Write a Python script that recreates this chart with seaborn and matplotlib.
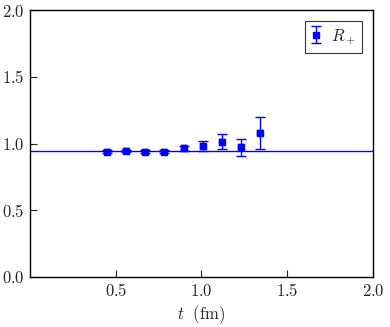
import matplotlib
matplotlib.use("Agg")
import matplotlib.pyplot as plt
import seaborn as sns
import numpy as np
import pandas as pd

t_vals = [0.448, 0.560, 0.672, 0.784, 0.896, 1.008, 1.120, 1.232, 1.344]
r_vals = [0.940, 0.945, 0.940, 0.940, 0.965, 0.983, 1.014, 0.972, 1.080]
r_errs = [0.010, 0.008, 0.008, 0.009, 0.018, 0.036, 0.058, 0.064, 0.118]
fit_value = 0.943
xticks = [0.5, 1.0, 1.5, 2.0]
yticks = [0.0, 0.5, 1.0, 1.5, 2.0]

sns.set_style("ticks")
plt.rcParams["mathtext.fontset"] = "cm"
plt.rcParams["font.family"] = ["DejaVu Serif"]

df = pd.DataFrame({"t": t_vals, "R": r_vals, "err": r_errs})

fig = plt.figure(figsize=(3.9, 3.27), dpi=100)
ax = fig.add_axes([0.077, 0.153, 0.879, 0.816])

ax.axhline(fit_value, color="#0000ff", lw=1.0, zorder=1)
ax.errorbar(df["t"], df["R"], yerr=df["err"], fmt="s", color="#0000ff",
            ms=4.2, capsize=3.5, elinewidth=1.0, capthick=1.0, label=r"$R_+$", zorder=3)
sns.scatterplot(data=df, x="t", y="R", marker="s", color="#0000ff", s=18,
                edgecolor="#0000ff", ax=ax, zorder=4, legend=False)

ax.set_xlim(0, 2.0)
ax.set_ylim(0, 2.0)
ax.set_xticks(xticks)
ax.set_yticks(yticks)
ax.set_xticklabels([f"${v:.1f}$" for v in xticks], fontsize=12)
ax.set_yticklabels([f"${v:.1f}$" for v in yticks], fontsize=12)
ax.tick_params(direction="in", length=5, width=0.8, top=False, right=False, pad=4)
for s in ax.spines.values():
    s.set_linewidth(1.0)
    s.set_color("black")
ax.set_xlabel(r"$t\ \ (\mathrm{fm})$", fontsize=12, labelpad=3)
ax.set_ylabel("")

leg = ax.legend(loc="upper right", fontsize=12, frameon=True, fancybox=False,
                edgecolor="black", handlelength=0.6, handletextpad=0.6,
                borderpad=0.35, borderaxespad=0.65)
leg.get_frame().set_linewidth(0.8)

fig.savefig("out.png", dpi=100)
